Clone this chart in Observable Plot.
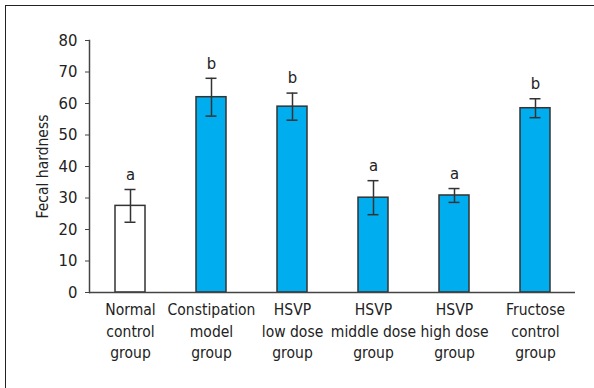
<!DOCTYPE html>
<html>
<head>
<meta charset="utf-8">
<script src="https://cdn.jsdelivr.net/npm/d3@7"></script>
<script src="https://cdn.jsdelivr.net/npm/@observablehq/plot@0.6"></script>
<style>
  html, body { margin: 0; padding: 0; background: #fff; }
  #wrap { position: relative; width: 594px; height: 388px; overflow: hidden; }
  #frame { position: absolute; left: 5px; top: 5px; right: -10px; bottom: -10px;
           border-left: 1.8px solid #222; border-top: 1.8px solid #222; }
  #chart { position: absolute; left: 0; top: 0; }
  svg { font-family: "Liberation Sans Narrow", "DejaVu Sans Condensed", "DejaVu Sans", sans-serif; font-stretch: condensed; }
</style>
</head>
<body>
<div id="wrap"><div id="frame"></div><div id="chart"></div></div>
<script>
const groups = ["Normal control group", "Constipation model group", "HSVP low dose group",
                "HSVP middle dose group", "HSVP high dose group", "Fructose control group"];
const tickLabels = ["Normal\ncontrol\ngroup", "Constipation\nmodel\ngroup", "HSVP\nlow dose\ngroup",
                    "HSVP\nmiddle dose\ngroup", "HSVP\nhigh dose\ngroup", "Fructose\ncontrol\ngroup"];
const means = [27.5, 62.0, 59.0, 30.1, 30.8, 58.5];
const errors = [5.2, 6.0, 4.3, 5.4, 2.2, 3.0];
const letters = ["a", "b", "b", "a", "a", "b"];
const fills = ["#ffffff", "#00aeef", "#00aeef", "#00aeef", "#00aeef", "#00aeef"];
const yTicks = [0, 10, 20, 30, 40, 50, 60, 70, 80];

const data = groups.map((g, i) => ({
  group: g, mean: means[i], lo: means[i] - errors[i], hi: means[i] + errors[i],
  letter: letters[i], fill: fills[i]
}));
const labelOf = new Map(groups.map((g, i) => [g, tickLabels[i]]));

const ink = "#333";
const fs = 15.5;
const plot = Plot.plot({
  width: 594,
  height: 388,
  marginLeft: 89,
  marginRight: 19,
  marginTop: 40,
  marginBottom: 96,
  style: { fontSize: fs + "px", color: "#222", background: "transparent" },
  x: { domain: groups, paddingInner: 0.63, paddingOuter: 0.315, align: 0.5, label: null },
  y: { domain: [0, 80], label: null },
  marks: [
    Plot.barY(data, { x: "group", y: "mean", fill: "fill", stroke: ink, strokeWidth: 1.5 }),
    Plot.ruleX(data, { x: "group", y1: "lo", y2: "hi", stroke: ink, strokeWidth: 1.5 }),
    Plot.tickY(data, { x: "group", y: "lo", stroke: ink, strokeWidth: 1.5, insetLeft: 9.5, insetRight: 9.5 }),
    Plot.tickY(data, { x: "group", y: "hi", stroke: ink, strokeWidth: 1.5, insetLeft: 9.5, insetRight: 9.5 }),
    Plot.text(data, { x: "group", y: "hi", text: "letter", dy: -15, fontSize: fs + 1, fill: "#222" }),
    Plot.ruleY([0], { stroke: "#444", strokeWidth: 1.5 }),
    Plot.frame({ anchor: "left", stroke: "#444", strokeWidth: 1.5 }),
    Plot.axisY({ ticks: yTicks, tickSize: 4, tickPadding: 8, stroke: "#444", label: null, fontSize: fs + 1 }),
    Plot.axisX({ tickSize: 0, tickPadding: 7, tickFormat: d => labelOf.get(d), lineHeight: 1.4, fontSize: fs, label: null }),
    Plot.text(["Fecal hardness"], { frameAnchor: "left", textAnchor: "middle", lineAnchor: "middle", rotate: -90, dx: -46, fontSize: fs, fill: "#222" })
  ]
});
document.getElementById("chart").appendChild(plot);
</script>
</body>
</html>
